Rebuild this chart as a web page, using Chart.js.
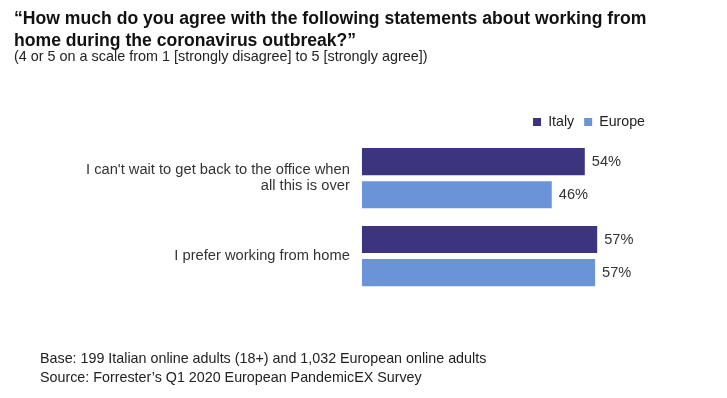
<!DOCTYPE html>
<html>
<head>
<meta charset="utf-8">
<script src="https://cdn.jsdelivr.net/npm/chart.js@4.4.1/dist/chart.umd.min.js"></script>
<style>
    html, body { margin: 0; padding: 0; background: #fff; }
    body { width: 727px; height: 398px; position: relative; overflow: hidden;
           font-family: 'Liberation Sans', Arial, Helvetica, sans-serif; }
    #chartWrap { position: absolute; left: 0; top: 0; width: 727px; height: 398px; }
    .title { position: absolute; left: 14px; top: 8px; font-size: 17.6px; font-weight: bold;
             line-height: 21.5px; color: #111; }
    .subtitle { position: absolute; left: 14px; top: 48px; font-size: 14.4px; line-height: 17px; color: #222; }
    .footer { position: absolute; left: 40px; top: 349px; font-size: 14.3px; line-height: 18.5px; color: #222; }
</style>
</head>
<body>
<div id="chartWrap"><canvas id="agreeChart"></canvas></div>
<div class="title">“How much do you agree with the following statements about working from<br>home during the coronavirus outbreak?”</div>
<div class="subtitle">(4 or 5 on a scale from 1 [strongly disagree] to 5 [strongly agree])</div>
<div class="footer">Base: 199 Italian online adults (18+) and 1,032 European online adults<br>Source: Forrester’s Q1 2020 European PandemicEX Survey</div>

<script>
// Chart data
const statements = [
    ["I can't wait to get back to the office when", "all this is over"],
    "I prefer working from home"
];
const italyValues = [54, 57];
const europeValues = [46, 56.5];

const fontFamily = "'Liberation Sans', Arial, Helvetica, sans-serif";

// Draw the percentage at the end of each bar
const valueLabels = {
    id: 'valueLabels',
    afterDatasetsDraw(chart) {
        const ctx = chart.ctx;
        ctx.save();
        ctx.font = '14.6px ' + fontFamily;
        ctx.fillStyle = '#333';
        ctx.textAlign = 'left';
        ctx.textBaseline = 'middle';
        chart.data.datasets.forEach((ds, i) => {
            chart.getDatasetMeta(i).data.forEach((bar, j) => {
                ctx.fillText(Math.round(ds.data[j]) + '%', bar.x + 7, bar.y);
            });
        });
        ctx.restore();
    }
};

document.addEventListener('DOMContentLoaded', function() {
    const ctx = document.getElementById('agreeChart').getContext('2d');
    new Chart(ctx, {
        type: 'bar',
        data: {
            labels: statements,
            datasets: [
                { label: 'Italy', data: italyValues, backgroundColor: '#3d3480' },
                { label: 'Europe', data: europeValues, backgroundColor: '#6a94d7' }
            ]
        },
        options: {
            indexAxis: 'y',
            responsive: true,
            maintainAspectRatio: false,
            animation: false,
            categoryPercentage: 0.85,
            barPercentage: 0.82,
            layout: {
                padding: { top: 105, bottom: 103, left: 74, right: 72 }
            },
            plugins: {
                legend: {
                    position: 'top',
                    align: 'end',
                    labels: {
                        boxWidth: 8,
                        boxHeight: 8,
                        padding: 10,
                        color: '#222',
                        font: { size: 14.2, family: fontFamily }
                    }
                },
                tooltip: { enabled: false }
            },
            scales: {
                x: {
                    display: false,
                    min: 0,
                    max: 71
                },
                y: {
                    grid: { display: false, drawTicks: false },
                    border: { display: false },
                    ticks: {
                        padding: 12,
                        color: '#333',
                        font: { size: 14.7, family: fontFamily, lineHeight: 1.1 }
                    }
                }
            }
        },
        plugins: [valueLabels]
    });
});
</script>
</body>
</html>
